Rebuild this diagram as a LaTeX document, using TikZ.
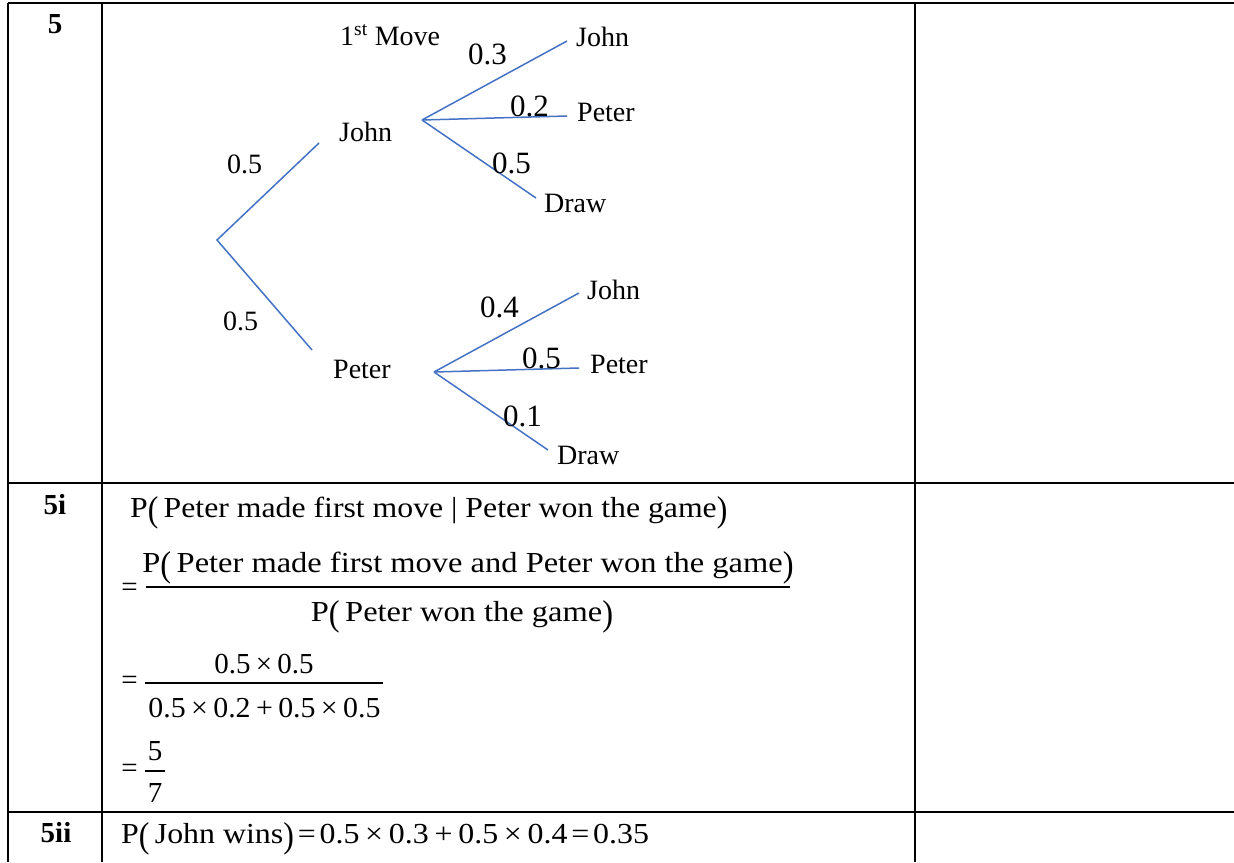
\documentclass[tikz,border=0pt]{standalone}
\usepackage{fontspec}
\setmainfont{Liberation Serif}
\usepackage{graphicx}

\definecolor{treeblue}{RGB}{68, 114, 196}

% tall brackets and stretched text as in the answer sheet
\newcommand\tallp[1]{\raisebox{-0.17em}{\scalebox{1}[1.24]{(}}\,#1\raisebox{-0.17em}{\scalebox{1}[1.24]{)}}}
\newcommand\wide[2][1.12]{\scalebox{#1}[1]{#2}}
\newcommand\tms{\hspace{0.18em}×\hspace{0.18em}}
\newcommand\pls{\hspace{0.18em}+\hspace{0.18em}}
\newcommand\eqs{\hspace{0.12em}=\hspace{0.12em}}

\begin{document}
\begin{tikzpicture}[x=1pt, y=-1pt, inner sep=0pt, font=\fontsize{28}{30}\selectfont]
      \useasboundingbox (0,0) rectangle (1234,862);
      \tikzset{
        gridline/.style={line width=2.6pt},
        branch/.style={treeblue, line width=1.5pt},
        fracbar/.style={line width=1.3pt},
        who/.style={anchor=base west},
        prob/.style={anchor=base west, font=\fontsize{31}{33}\selectfont},
        rowlab/.style={anchor=base, font=\bfseries\fontsize{29}{30}\selectfont},
        eqn/.style={font=\fontsize{29}{31}\selectfont},
      }

      % table rules
      \draw[gridline] (8,3) -- (1234,3);
      \draw[gridline] (8,483) -- (1234,483);
      \draw[gridline] (8,812) -- (1234,812);
      \foreach \x in {8, 102, 915} {
        \draw[gridline] (\x,3) -- (\x,862);
      }

      % question numbers
      \node[rowlab] (q5) at (55,33) {5};
      \node[rowlab] (q5i) at (55,514) {5i};
      \node[rowlab] (q5ii) at (56,842) {5ii};

      % first move
      \coordinate (root) at (217,240);
      \coordinate (john-e) at (319,143);
      \coordinate (peter-e) at (312,350);
      \draw[branch] (john-e) -- (root) -- (peter-e);
      \node[who] (first) at (340,45) {1\textsuperscript{st} Move};
      \node[who] (john) at (339,141) {John};
      \node[who] (peter) at (333,378) {Peter};
      \node[who] (john-p) at (227,173) {0.5};
      \node[who] (peter-p) at (223,330) {0.5};

      % second move after John
      \coordinate (jfork) at (422,120);
      \foreach \k/\ex/\ey/\t/\tx/\ty/\p/\px/\py in {
          jj/567/41/John/576/46/0.3/468/64,
          jp/567/116/Peter/577/121/0.2/510/116,
          jd/536/198/Draw/544/212/0.5/492/173} {
        \coordinate (\k-e) at (\ex,\ey);
        \draw[branch] (jfork) -- (\k-e);
        \node[who] (\k) at (\tx,\ty) {\t};
        \node[prob] (\k-p) at (\px,\py) {\p};
      }

      % second move after Peter
      \coordinate (pfork) at (434,372);
      \foreach \k/\ex/\ey/\t/\tx/\ty/\p/\px/\py in {
          pj/579/293/John/587/299/0.4/480/317,
          pp/579/368/Peter/590/373/0.5/522/368,
          pd/548/450/Draw/557/464/0.1/503/426} {
        \coordinate (\k-e) at (\ex,\ey);
        \draw[branch] (pfork) -- (\k-e);
        \node[who] (\k) at (\tx,\ty) {\t};
        \node[prob] (\k-p) at (\px,\py) {\p};
      }

      % part i
      \node[eqn, anchor=base west] (given) at (130,517)
        {\wide[1.095]{P\tallp{Peter made first move | Peter won the game}}};
      \node[eqn] (eq1) at (129.5,590) {=};
      \node[eqn, anchor=base] (num1) at (468,572)
        {\wide{P\tallp{Peter made first move and Peter won the game}}};
      \draw[fracbar] (146,587) -- (790,587);
      \node[eqn, anchor=base] (den1) at (462,621) {\wide{P\tallp{Peter won the game}}};

      \node[eqn] (eq2) at (129.5,683) {=};
      \node[eqn, anchor=base] (num2) at (264,673) {0.5\tms0.5};
      \draw[fracbar] (145,683) -- (383,683);
      \node[eqn, anchor=base] (den2) at (264.5,717) {\wide[1.03]{0.5\tms0.2\pls0.5\tms0.5}};

      \node[eqn] (eq3) at (129.5,771) {=};
      \node[eqn, anchor=base] (num3) at (155,760) {5};
      \draw[fracbar] (145,771) -- (165,771);
      \node[eqn, anchor=base] (den3) at (155,802) {7};

      % part ii
      \node[eqn, anchor=base west] (wins) at (121,843)
        {\wide[1.1]{P\tallp{John wins}\eqs0.5\tms0.3\pls0.5\tms0.4\eqs0.35}};
    \end{tikzpicture}
\end{document}
